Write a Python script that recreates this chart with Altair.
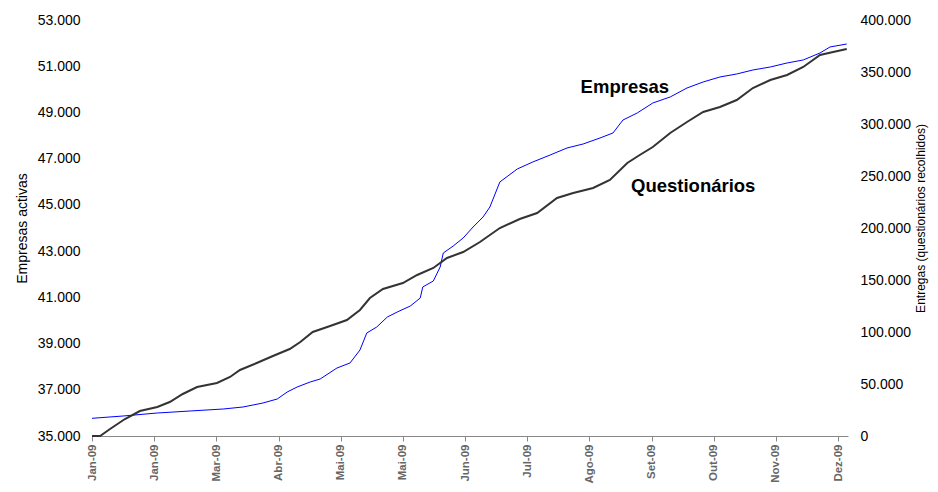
import altair as alt
import pandas as pd

# x positions are in "tick units" (0 = first label, 12 = last label)
tick_labels = ["Jan-09", "Jan-09", "Mar-09", "Abr-09", "Mai-09", "Mai-09", "Jun-09",
               "Jul-09", "Ago-09", "Set-09", "Out-09", "Nov-09", "Dez-09"]

emp_x = [0.00, 0.50, 1.05, 1.58, 2.11, 2.43, 2.59, 2.75, 2.98, 3.14, 3.30, 3.51, 3.67,
         3.94, 4.15, 4.31, 4.42, 4.58, 4.75, 4.91, 5.12, 5.28, 5.32, 5.49, 5.60, 5.65,
         5.81, 5.97, 6.13, 6.29, 6.40, 6.56, 6.84, 7.09, 7.37, 7.64, 7.90, 8.17, 8.38,
         8.54, 8.77, 9.02, 9.30, 9.57, 9.83, 10.10, 10.37, 10.63, 10.91, 11.18, 11.44,
         11.71, 11.87, 12.14]
emp_y = [35766, 35865, 35995, 36082, 36168, 36255, 36341, 36428, 36601, 36904, 37120,
         37337, 37466, 37942, 38159, 38721, 39457, 39716, 40149, 40365, 40625, 40971,
         41447, 41707, 42313, 42918, 43221, 43567, 44043, 44476, 44909, 45990, 46553,
         46856, 47159, 47462, 47635, 47894, 48111, 48673, 48976, 49409, 49669, 50058,
         50318, 50534, 50664, 50837, 50967, 51140, 51270, 51573, 51832, 51962]

q_x = [0.00, 0.13, 0.29, 0.53, 0.77, 1.05, 1.25, 1.46, 1.69, 2.01, 2.22, 2.38, 2.65,
       2.91, 3.18, 3.35, 3.55, 3.83, 4.10, 4.31, 4.47, 4.68, 5.00, 5.23, 5.49, 5.71,
       5.97, 6.24, 6.56, 6.88, 7.16, 7.48, 7.74, 8.06, 8.33, 8.61, 8.81, 9.02, 9.30,
       9.57, 9.83, 10.10, 10.37, 10.63, 10.91, 11.18, 11.44, 11.71, 11.92, 12.14]
q_y = [0, 0, 6731, 16346, 24038, 27884, 32692, 40384, 47115, 50961, 56730, 63461,
       70192, 76922, 83653, 90384, 100000, 105769, 111538, 121153, 132692, 141346,
       147115, 154807, 161538, 171153, 176923, 186538, 200000, 208653, 214423, 228846,
       233653, 238461, 246153, 262500, 270192, 277884, 291346, 301923, 311538, 316346,
       323076, 334615, 342307, 347115, 354807, 366346, 369230, 372115]

ann_text = ["Empresas", "Questionários"]
ann_x = [8.57, 9.67]
ann_y = [50101, 45817]

emp = pd.DataFrame({"t": emp_x, "v": emp_y})
q = pd.DataFrame({"t": q_x, "v": q_y})
ann = pd.DataFrame({"t": ann_x, "v": ann_y, "label": ann_text})

FONT = "Liberation Sans"
label_js = "[" + ",".join('"%s"' % s for s in tick_labels) + "]"

x_enc = alt.X(
    "t:Q",
    scale=alt.Scale(domain=[0, 12.16], nice=False, zero=False),
    axis=alt.Axis(
        values=list(range(13)),
        labelExpr=label_js + "[datum.value]",
        title=None,
        grid=False,
        domainColor="#888888",
        tickColor="#888888",
        tickSize=5,
        labelAngle=270,
        labelAlign="right",
        labelBaseline="middle",
        labelPadding=3,
        labelFont=FONT,
        labelFontSize=11.5,
        labelFontWeight="bold",
        labelColor="#666666",
    ),
)

left_scale = alt.Scale(domain=[35000, 53000], nice=False, zero=False)
left_axis = alt.Axis(
    values=list(range(35000, 53001, 2000)),
    labelExpr="replace(format(datum.value, ',.0f'), ',', '.')",
    title="Empresas activas",
    titleFont=FONT,
    titleFontSize=14,
    titleFontWeight="normal",
    titleColor="#000000",
    titlePadding=8,
    grid=False,
    domain=False,
    ticks=False,
    labelPadding=12,
    labelFont=FONT,
    labelFontSize=14,
    labelColor="#000000",
)

emp_line = alt.Chart(emp).mark_line(color="#0000FF", strokeWidth=1).encode(
    x=x_enc,
    y=alt.Y("v:Q", scale=left_scale, axis=left_axis),
)

ann_text_layer = alt.Chart(ann).mark_text(
    font=FONT, fontSize=18.5, fontWeight="bold", color="#000000"
).encode(
    x=alt.X("t:Q"),
    y=alt.Y("v:Q", scale=left_scale, axis=left_axis),
    text="label:N",
)

q_line = alt.Chart(q).mark_line(color="#333333", strokeWidth=2).encode(
    x=alt.X("t:Q"),
    y=alt.Y(
        "v:Q",
        scale=alt.Scale(domain=[0, 400000], nice=False),
        axis=alt.Axis(
            orient="right",
            values=list(range(0, 400001, 50000)),
            labelExpr="replace(format(datum.value, ',.0f'), ',', '.')",
            title="Entregas (questionários recolhidos)",
            titleFont=FONT,
            titleFontSize=12,
            titleFontWeight="normal",
            titleColor="#000000",
            titleAngle=270,
            titleBaseline="top",
            titleY=198,
            titlePadding=5,
            grid=False,
            domain=False,
            ticks=False,
            labelPadding=12,
            labelFont=FONT,
            labelFontSize=14,
            labelColor="#000000",
        ),
    ),
)

chart = (
    alt.layer(alt.layer(emp_line, ann_text_layer), q_line)
    .resolve_scale(y="independent")
    .properties(
        width=756,
        height=416,
        background="#ffffff",
        autosize=alt.AutoSizeParams(type="none"),
        padding={"left": 84, "top": 12, "right": 82, "bottom": 48},
    )
    .configure_view(stroke=None)
)

chart.save("out.html", embed_options={"renderer": "svg", "actions": False})
